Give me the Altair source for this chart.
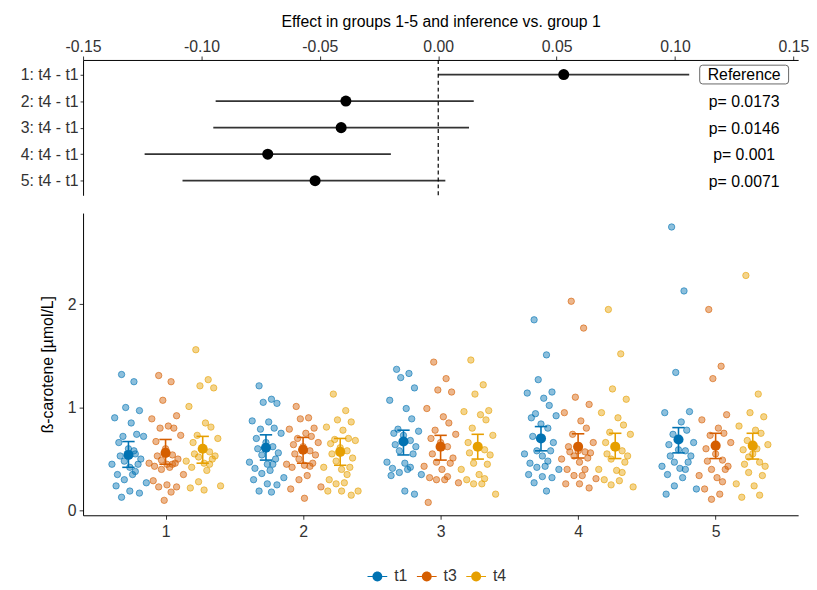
import altair as alt
import pandas as pd

FONT = "Liberation Sans"

# ---------------- top panel: effects ----------------
ROW_LABELS = ["1: t4 - t1", "2: t4 - t1", "3: t4 - t1", "4: t4 - t1", "5: t4 - t1"]
EST = [0.053, -0.039, -0.041, -0.072, -0.052]
CI_LO = [0.000, -0.094, -0.095, -0.124, -0.108]
CI_HI = [0.106, 0.015, 0.013, -0.020, 0.003]
PTEXT = ["Reference", "p= 0.0173", "p= 0.0146", "p= 0.001", "p= 0.0071"]
X_TICKS_TOP = [-0.15, -0.10, -0.05, 0.00, 0.05, 0.10, 0.15]

# ---------------- bottom panel: raw values ----------------
GROUPS = [1, 2, 3, 4, 5]
TIMES = ["t1", "t3", "t4"]
COLORS = ["#0072B2", "#D55E00", "#E69F00"]

G1_T1 = [1.32, 1.25, 1.00, 0.97, 0.90, 0.85, 0.74, 0.72, 0.72, 0.66, 0.60, 0.55, 0.53, 0.50, 0.48, 0.45, 0.45, 0.42, 0.38, 0.35, 0.35, 0.30, 0.27, 0.24, 0.19, 0.17, 0.13, 0.58]
G1_T3 = [1.31, 1.25, 1.07, 0.92, 0.89, 0.82, 0.80, 0.80, 0.73, 0.67, 0.60, 0.54, 0.53, 0.50, 0.49, 0.46, 0.46, 0.45, 0.45, 0.43, 0.42, 0.40, 0.35, 0.29, 0.25, 0.23, 0.23, 0.18, 0.10]
G1_T4 = [1.56, 1.27, 1.21, 1.19, 1.01, 0.85, 0.81, 0.73, 0.70, 0.66, 0.61, 0.57, 0.55, 0.53, 0.52, 0.50, 0.48, 0.46, 0.45, 0.42, 0.39, 0.28, 0.24, 0.22, 0.20]
G2_T1 = [1.21, 1.08, 1.05, 1.04, 0.87, 0.86, 0.80, 0.79, 0.75, 0.70, 0.66, 0.62, 0.60, 0.56, 0.54, 0.50, 0.47, 0.45, 0.45, 0.41, 0.39, 0.36, 0.32, 0.30, 0.26, 0.25, 0.19, 0.18]
G2_T3 = [1.01, 0.90, 0.89, 0.80, 0.79, 0.75, 0.72, 0.70, 0.66, 0.64, 0.62, 0.58, 0.55, 0.54, 0.50, 0.46, 0.45, 0.44, 0.43, 0.42, 0.34, 0.30, 0.23, 0.21, 0.12]
G2_T4 = [1.13, 0.97, 0.88, 0.86, 0.81, 0.78, 0.70, 0.69, 0.68, 0.65, 0.61, 0.58, 0.55, 0.51, 0.48, 0.42, 0.42, 0.40, 0.35, 0.30, 0.27, 0.26, 0.19, 0.19, 0.19, 0.15]
G3_T1 = [1.37, 1.33, 1.29, 1.19, 1.07, 0.99, 0.89, 0.79, 0.77, 0.75, 0.73, 0.68, 0.64, 0.62, 0.58, 0.55, 0.47, 0.46, 0.42, 0.41, 0.40, 0.37, 0.35, 0.34, 0.19, 0.16]
G3_T3 = [1.44, 1.28, 1.17, 1.15, 0.99, 0.91, 0.85, 0.78, 0.74, 0.70, 0.66, 0.62, 0.55, 0.51, 0.47, 0.46, 0.43, 0.40, 0.33, 0.32, 0.30, 0.30, 0.27, 0.08]
G3_T4 = [1.46, 1.22, 1.13, 0.97, 0.96, 0.93, 0.88, 0.80, 0.73, 0.66, 0.62, 0.59, 0.56, 0.54, 0.46, 0.45, 0.40, 0.35, 0.31, 0.30, 0.26, 0.26, 0.16]
G4_T1 = [1.85, 1.51, 1.27, 1.15, 1.14, 1.09, 1.02, 0.94, 0.92, 0.90, 0.84, 0.80, 0.72, 0.66, 0.58, 0.58, 0.55, 0.53, 0.48, 0.46, 0.43, 0.42, 0.40, 0.35, 0.33, 0.32, 0.27, 0.19]
G4_T3 = [2.03, 1.77, 1.10, 1.03, 0.95, 0.87, 0.80, 0.74, 0.66, 0.62, 0.58, 0.57, 0.57, 0.56, 0.53, 0.51, 0.50, 0.47, 0.40, 0.40, 0.34, 0.34, 0.31, 0.26, 0.26, 0.22]
G4_T4 = [1.95, 1.52, 1.18, 1.08, 0.95, 0.90, 0.83, 0.76, 0.74, 0.66, 0.62, 0.58, 0.55, 0.53, 0.50, 0.47, 0.40, 0.39, 0.37, 0.30, 0.29, 0.25, 0.23]
G5_T1 = [2.75, 2.13, 1.34, 0.96, 0.95, 0.86, 0.78, 0.74, 0.66, 0.64, 0.59, 0.58, 0.53, 0.53, 0.47, 0.47, 0.43, 0.41, 0.40, 0.35, 0.32, 0.24, 0.21, 0.16]
G5_T3 = [1.95, 1.40, 1.28, 0.93, 0.88, 0.80, 0.75, 0.73, 0.66, 0.60, 0.55, 0.49, 0.48, 0.43, 0.40, 0.40, 0.34, 0.32, 0.28, 0.21, 0.16, 0.11]
G5_T4 = [2.28, 1.13, 0.95, 0.91, 0.82, 0.78, 0.75, 0.68, 0.64, 0.59, 0.55, 0.47, 0.45, 0.43, 0.37, 0.34, 0.26, 0.24, 0.15, 0.13, 0.60, 0.52]

MEAN_T1 = [0.54, 0.61, 0.67, 0.70, 0.69]
LO_T1 = [0.42, 0.49, 0.54, 0.58, 0.56]
HI_T1 = [0.67, 0.735, 0.78, 0.815, 0.805]
MEAN_T3 = [0.56, 0.59, 0.62, 0.62, 0.63]
LO_T3 = [0.45, 0.46, 0.49, 0.51, 0.505]
HI_T3 = [0.69, 0.71, 0.73, 0.745, 0.75]
MEAN_T4 = [0.60, 0.57, 0.62, 0.62, 0.63]
LO_T4 = [0.46, 0.44, 0.50, 0.505, 0.50]
HI_T4 = [0.72, 0.70, 0.74, 0.75, 0.75]

# horizontal jitter of the raw points (fraction of group spacing)
JITTER = [-0.05, 0.04, -0.02, 0.08, -0.10, 0.02, 0.06, -0.04, 0.11, -0.07,
          0.00, 0.05, -0.06, 0.09, -0.03, 0.07, -0.12, 0.01, 0.05, -0.08,
          0.03, -0.03, 0.13, -0.09, 0.01, 0.08, -0.05, 0.04, -0.01, 0.06]
DODGE = {"t1": -0.27, "t3": 0.0, "t4": 0.27}
CAP = 0.045

RAW = {
    (1, "t1"): G1_T1, (1, "t3"): G1_T3, (1, "t4"): G1_T4,
    (2, "t1"): G2_T1, (2, "t3"): G2_T3, (2, "t4"): G2_T4,
    (3, "t1"): G3_T1, (3, "t3"): G3_T3, (3, "t4"): G3_T4,
    (4, "t1"): G4_T1, (4, "t3"): G4_T3, (4, "t4"): G4_T4,
    (5, "t1"): G5_T1, (5, "t3"): G5_T3, (5, "t4"): G5_T4,
}
raw_rows = []
for (g, t), vals in RAW.items():
    for i, v in enumerate(vals):
        raw_rows.append({"group": g, "time": t, "value": v,
                         "xpos": g + DODGE[t] + JITTER[i % len(JITTER)]})
raw_df = pd.DataFrame(raw_rows)

SUM = {"t1": (MEAN_T1, LO_T1, HI_T1), "t3": (MEAN_T3, LO_T3, HI_T3), "t4": (MEAN_T4, LO_T4, HI_T4)}
sum_rows = []
for t, (m, lo, hi) in SUM.items():
    for k, g in enumerate(GROUPS):
        sum_rows.append({"group": g, "time": t, "mean": m[k], "lo": lo[k], "hi": hi[k],
                         "xpos": g + DODGE[t], "xl": g + DODGE[t] - CAP, "xr": g + DODGE[t] + CAP})
sum_df = pd.DataFrame(sum_rows)

forest_df = pd.DataFrame({"row": ROW_LABELS, "est": EST, "lo": CI_LO, "hi": CI_HI, "ptext": PTEXT})

W = 724
FS = 16

# ---------------- top chart ----------------
xs_top = alt.Scale(domain=[-0.15, 0.152], nice=False, zero=False)
ax_top = alt.Axis(orient="top", values=X_TICKS_TOP, format=".2f", title="Effect in groups 1-5 and inference vs. group 1",
                  grid=False, tickSize=4, labelPadding=2, titlePadding=9, labelFontSize=FS, titleFontSize=FS,
                  titleFontWeight="normal", labelFlush=False, labelExpr="replace(datum.label, '−', '-')")
y_top = alt.Y("row:N", sort=ROW_LABELS, scale=alt.Scale(type="point", padding=0.55),
              axis=alt.Axis(title=None, grid=False, tickSize=3, labelPadding=2, labelFontSize=FS))

base_top = alt.Chart(forest_df)
ci = base_top.mark_rule(strokeWidth=1.7, color="#333333").encode(
    x=alt.X("lo:Q", scale=xs_top, axis=ax_top), x2="hi:Q", y=y_top)
zero = alt.Chart(pd.DataFrame({"zero": [0.0]})).mark_rule(color="black", strokeDash=[4, 3], strokeWidth=1.2).encode(
    x=alt.X("zero:Q", scale=xs_top, axis=ax_top))
pts = base_top.mark_circle(size=125, color="black", opacity=1).encode(
    x=alt.X("est:Q", scale=xs_top, axis=ax_top), y=y_top)
REF_PATH = ("M-0.933,-0.211 L0.933,-0.211 Q1,-0.211 1,-0.144 L1,0.144 Q1,0.211 0.933,0.211 "
            "L-0.933,0.211 Q-1,0.211 -1,0.144 L-1,-0.144 Q-1,-0.211 -0.933,-0.211 Z")
box = base_top.transform_filter(alt.datum.ptext == "Reference").transform_calculate(px="0.1292").mark_point(
    shape=REF_PATH, size=8100, filled=False, stroke="#666666", strokeWidth=1, opacity=1).encode(
    x=alt.X("px:Q", scale=xs_top, axis=ax_top), y=y_top)
ptxt = base_top.transform_calculate(px="0.1292").mark_text(fontSize=FS, font=FONT, color="black", align="center",
                                                          dy=1).encode(
    x=alt.X("px:Q", scale=xs_top, axis=ax_top), y=y_top, text="ptext:N")

top = alt.layer(ci, zero, pts, box, ptxt).properties(width=W, height=137)

# ---------------- bottom chart ----------------
xs_bot = alt.Scale(domain=[0.4, 5.6], nice=False, zero=False)
ax_bot = alt.Axis(values=GROUPS, format="d", title=None, grid=False, tickSize=4, labelPadding=4, labelFontSize=FS)
ys_bot = alt.Scale(domain=[-0.045, 2.885], nice=False, zero=False)
ax_ybot = alt.Axis(values=[0, 1, 2], title="ß-carotene [µmol/L]", grid=False, tickSize=4, labelPadding=3,
                   labelFontSize=FS, titleFontSize=FS, titleFontWeight="normal", titlePadding=12)
LEG_PATH = ("M-1,-0.06 L-0.5,-0.06 L-0.5,0.06 L-1,0.06 Z M0.5,-0.06 L1,-0.06 L1,0.06 L0.5,0.06 Z "
            "M0.5,0 A0.5,0.5 0 1,1 -0.5,0 A0.5,0.5 0 1,1 0.5,0 Z")
legend = alt.Legend(title=None, orient="none", direction="horizontal", legendX=288, legendY=513,
                    symbolType=LEG_PATH, symbolSize=400, symbolOpacity=1, symbolStrokeWidth=0,
                    labelFontSize=FS, labelFont=FONT, labelColor="#333333", columnPadding=9, labelOffset=7)
col = alt.Color("time:N", scale=alt.Scale(domain=TIMES, range=COLORS), legend=legend)

jit = alt.Chart(raw_df).mark_point(filled=True, size=42, fillOpacity=0.45, strokeOpacity=0.6, strokeWidth=1,
                                   opacity=1).encode(
    x=alt.X("xpos:Q", scale=xs_bot, axis=ax_bot),
    y=alt.Y("value:Q", scale=ys_bot, axis=ax_ybot),
    color=col,
    stroke=alt.Stroke("time:N", scale=alt.Scale(domain=TIMES, range=COLORS), legend=None))
bars = alt.Chart(sum_df).mark_rule(strokeWidth=1.6).encode(
    x=alt.X("xpos:Q", scale=xs_bot, axis=ax_bot), y=alt.Y("lo:Q", scale=ys_bot, axis=ax_ybot), y2="hi:Q", color=col)
cap_lo = alt.Chart(sum_df).mark_rule(strokeWidth=1.6).encode(
    x=alt.X("xl:Q", scale=xs_bot, axis=ax_bot), x2="xr:Q", y=alt.Y("lo:Q", scale=ys_bot, axis=ax_ybot), color=col)
cap_hi = alt.Chart(sum_df).mark_rule(strokeWidth=1.6).encode(
    x=alt.X("xl:Q", scale=xs_bot, axis=ax_bot), x2="xr:Q", y=alt.Y("hi:Q", scale=ys_bot, axis=ax_ybot), color=col)
means = alt.Chart(sum_df).mark_point(filled=True, size=105, opacity=1).encode(
    x=alt.X("xpos:Q", scale=xs_bot, axis=ax_bot), y=alt.Y("mean:Q", scale=ys_bot, axis=ax_ybot), color=col)

bottom = alt.layer(jit, bars, cap_lo, cap_hi, means).properties(width=W, height=306)

chart = alt.vconcat(top, bottom, spacing=17).properties(
    padding={"left": 12, "top": 2, "right": 0, "bottom": 0}
).configure_view(stroke=None).configure_axis(
    labelFont=FONT, titleFont=FONT, labelColor="#333333", titleColor="black",
    domainColor="black", tickColor="#333333", domainWidth=1, tickWidth=1
).configure_text(font=FONT)

chart.save("out.html", embed_options={"renderer": "svg", "actions": False})
